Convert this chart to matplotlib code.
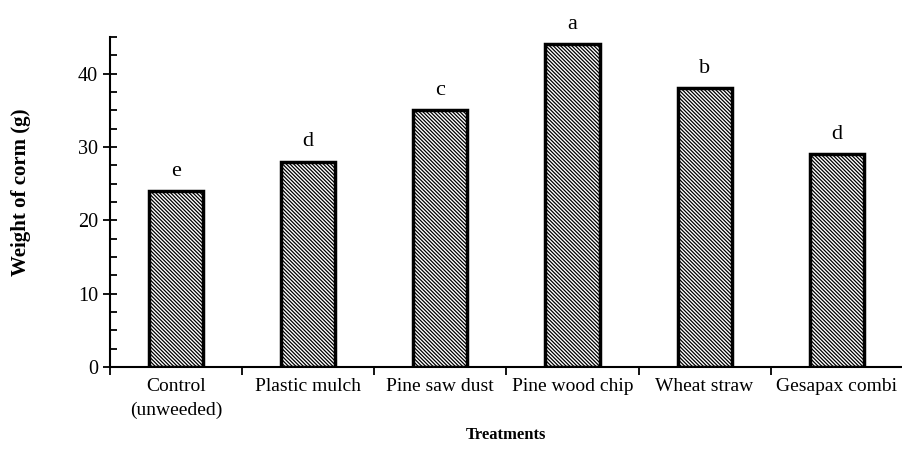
import matplotlib.pyplot as plt
import numpy as np
from matplotlib.ticker import MultipleLocator

plt.rcParams['font.family'] = ['Liberation Serif', 'DejaVu Serif']
plt.rcParams['hatch.linewidth'] = 0.9
plt.rcParams['hatch.color'] = '#222222'

treatments = ['Control\n(unweeded)', 'Plastic mulch', 'Pine saw dust',
              'Pine wood chip', 'Wheat straw', 'Gesapax combi']
weights = [24, 28, 35, 44, 38, 29]
letters = ['e', 'd', 'c', 'a', 'b', 'd']

fig = plt.figure(figsize=(9.03, 4.53), dpi=100)
ax = fig.add_axes([0.1218, 0.19, 0.878, 0.728])

x = np.arange(len(treatments))
ax.bar(x, weights, width=0.41, color='white', edgecolor='black',
       linewidth=2.5, hatch='\\' * 9)
for xi, w, l in zip(x, weights, letters):
    ax.text(xi, w + 1.4, l, ha='center', va='bottom', fontsize=16)

ax.set_xlim(-0.5, len(treatments) - 0.5)
ax.set_ylim(0, 45)
ax.spines['top'].set_visible(False)
ax.spines['right'].set_visible(False)
ax.spines['left'].set_linewidth(1.5)
ax.spines['bottom'].set_linewidth(1.5)

ax.yaxis.set_major_locator(MultipleLocator(10))
ax.yaxis.set_minor_locator(MultipleLocator(2.5))
ax.tick_params(axis='y', which='major', direction='inout', length=10, width=1.3, labelsize=14.5)
ax.tick_params(axis='y', which='minor', direction='in', length=5, width=1.3)

ax.set_xticks(x)
ax.set_xticklabels(treatments, fontsize=14, linespacing=1.5)
ax.tick_params(axis='x', which='major', length=0, pad=8)
ax.set_xticks(np.arange(len(treatments) + 1) - 0.5, minor=True)
ax.tick_params(axis='x', which='minor', direction='out', length=6, width=1.3)

ax.set_ylabel('Weight of corm (g)', fontsize=15, fontweight='bold')
ax.yaxis.set_label_coords(-0.1, 0.53)
ax.set_xlabel('Treatments', fontsize=12, fontweight='bold', labelpad=6)

fig.savefig('out.png', dpi=100)
